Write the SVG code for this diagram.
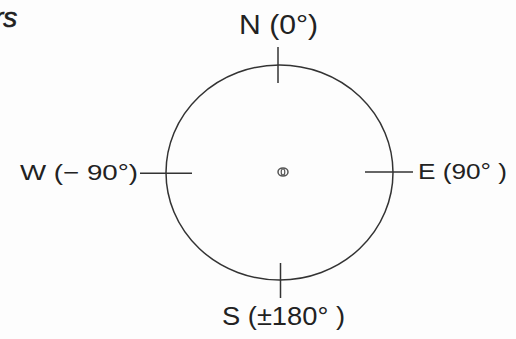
<svg xmlns="http://www.w3.org/2000/svg" width="516" height="339" viewBox="0 0 516 339">
<style>
.lbl{font-family:"Liberation Sans",Arial,sans-serif;fill:#222}
.ln{stroke:#333;stroke-width:1.5;fill:none}
</style>
<rect width="516" height="339" fill="#fdfdfd"/>
<text class="lbl" x="-6" y="27" font-size="28" font-style="italic" fill="#1a1a1a" stroke="#1a1a1a" stroke-width="0.6">rs</text>
<g id="compass">
<ellipse class="ln" cx="279.5" cy="172.5" rx="113.5" ry="107.5" stroke="#444"/>
</g>
<g id="center">
<ellipse cx="283" cy="172" rx="5" ry="4" fill="none" stroke="#555" stroke-width="1.5"/>
<ellipse cx="283" cy="172" rx="1.8" ry="3" fill="none" stroke="#555" stroke-width="1.2"/>
</g>
<g id="connectors">
<line class="ln" x1="278" y1="47" x2="278" y2="83"/>
<line class="ln" x1="280.5" y1="263" x2="280.5" y2="298"/>
<line class="ln" x1="140" y1="173.3" x2="192" y2="173.3"/>
<line class="ln" x1="365" y1="172" x2="413" y2="172"/>
</g>
<g id="n"><text class="lbl" x="239" y="33.5" font-size="28" textLength="79" lengthAdjust="spacingAndGlyphs">N (0°)</text></g>
<g id="w"><text class="lbl" x="20" y="180" font-size="22.5" textLength="118" lengthAdjust="spacingAndGlyphs">W (− 90°)</text></g>
<g id="e"><text class="lbl" x="418" y="178.5" font-size="22.5" textLength="89" lengthAdjust="spacingAndGlyphs">E (90° )</text></g>
<g id="s"><text class="lbl" x="222" y="325" font-size="25" textLength="123" lengthAdjust="spacingAndGlyphs">S (±180° )</text></g>
</svg>
